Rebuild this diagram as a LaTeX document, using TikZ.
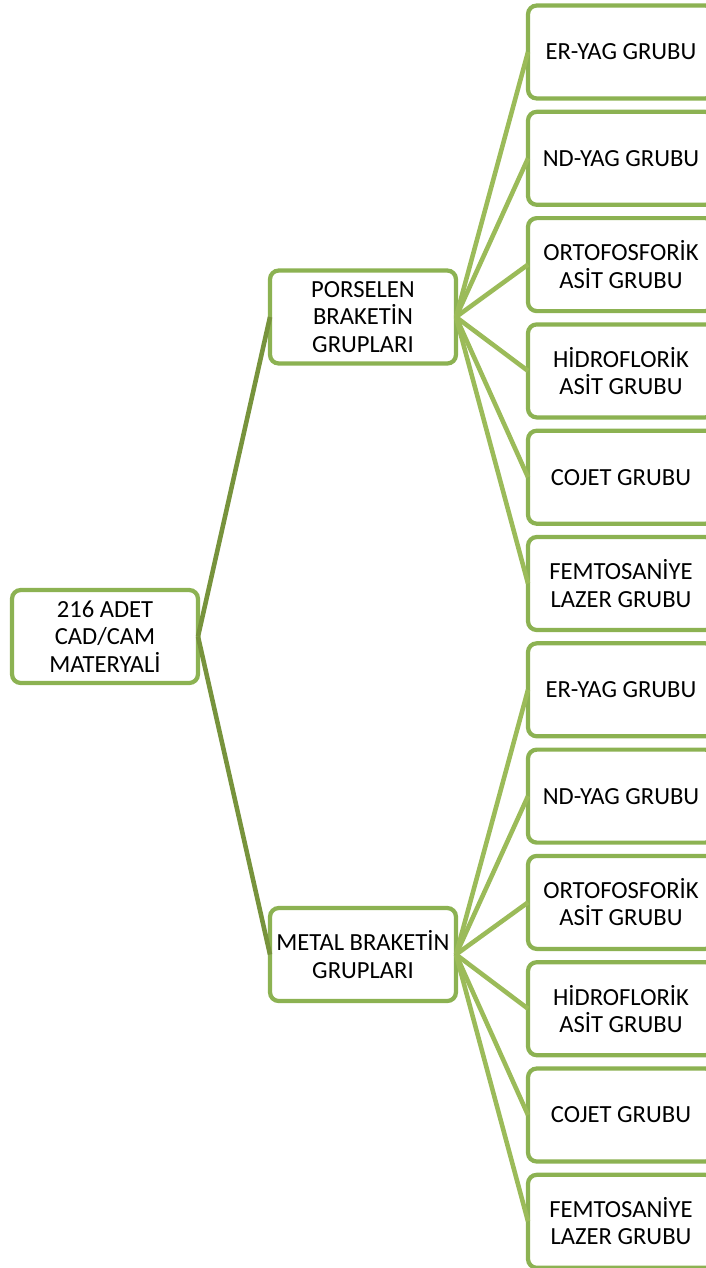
\documentclass[tikz,border=0pt]{standalone}
\usepackage{fontspec}
\setmainfont{Carlito}
\usetikzlibrary{positioning}
\definecolor{boxgreen}{RGB}{140,178,82}
\definecolor{leafline}{RGB}{155,187,89}
\definecolor{rootline}{RGB}{119,147,60}

\begin{document}
\begin{tikzpicture}[box/.style={rectangle,rounded corners=5pt,draw=boxgreen,line width=2.4pt,fill=white,minimum width=3.72cm,minimum height=1.86cm,align=center,font=\fontsize{14}{15.5}\selectfont,inner sep=2pt,outer sep=0pt},
    rootedge/.style={draw=rootline,line width=2.6pt},
    leafedge/.style={draw=leafline,line width=2.6pt}]
        \clip (0,0) rectangle (14.12,-25.36);

        \node[box] (root) at (2.1,-12.73) {216 ADET\\CAD/CAM\\MATERYALİ};
        \node[box] (por) at (7.26,-6.34) {PORSELEN\\BRAKETİN\\GRUPLARI};
        \node[box] (met) at (7.26,-19.09) {METAL BRAKETİN\\GRUPLARI};

        \node[box] (p1) at (12.42,-1.04) {ER-YAG GRUBU};
        \node[box] (p2) at (12.42,-3.166) {ND-YAG GRUBU};
        \node[box] (p3) at (12.42,-5.292) {ORTOFOSFORİK\\ASİT GRUBU};
        \node[box] (p4) at (12.42,-7.418) {HİDROFLORİK\\ASİT GRUBU};
        \node[box] (p5) at (12.42,-9.544) {COJET GRUBU};
        \node[box] (p6) at (12.42,-11.67) {FEMTOSANİYE\\LAZER GRUBU};

        \node[box] (m1) at (12.42,-13.796) {ER-YAG GRUBU};
        \node[box] (m2) at (12.42,-15.922) {ND-YAG GRUBU};
        \node[box] (m3) at (12.42,-18.048) {ORTOFOSFORİK\\ASİT GRUBU};
        \node[box] (m4) at (12.42,-20.174) {HİDROFLORİK\\ASİT GRUBU};
        \node[box] (m5) at (12.42,-22.3) {COJET GRUBU};
        \node[box] (m6) at (12.42,-24.426) {FEMTOSANİYE\\LAZER GRUBU};

        \draw[rootedge] (root.east) -- (por.west);
        \draw[rootedge] (root.east) -- (met.west);

        \draw[leafedge] (por.east) -- (p1.west);
        \draw[leafedge] (por.east) -- (p2.west);
        \draw[leafedge] (por.east) -- (p3.west);
        \draw[leafedge] (por.east) -- (p4.west);
        \draw[leafedge] (por.east) -- (p5.west);
        \draw[leafedge] (por.east) -- (p6.west);

        \draw[leafedge] (met.east) -- (m1.west);
        \draw[leafedge] (met.east) -- (m2.west);
        \draw[leafedge] (met.east) -- (m3.west);
        \draw[leafedge] (met.east) -- (m4.west);
        \draw[leafedge] (met.east) -- (m5.west);
        \draw[leafedge] (met.east) -- (m6.west);
    \end{tikzpicture}
\end{document}
